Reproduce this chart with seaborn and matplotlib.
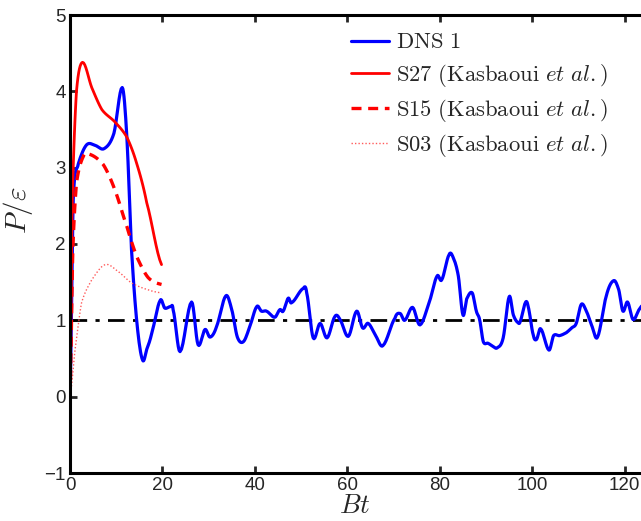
import numpy as np
import pandas as pd
import matplotlib
matplotlib.use("Agg")
import matplotlib.pyplot as plt
import seaborn as sns

# DNS 1 (blue)
dns_t = [0.0, 0.7, 1.8, 3.6, 5.5, 7.4, 9.5, 11.3, 12.3, 13.3, 14.5, 15.7, 16.6, 17.7,
         19.5, 20.5, 21.8, 22.3, 23.8, 26.3, 27.7, 29.2, 30.3, 31.7, 33.7, 35.0, 36.2,
         37.5, 38.9, 40.4, 41.4, 42.5, 44.3, 45.4, 46.1, 47.2, 47.9, 50.5, 51.2, 52.6,
         54.1, 55.6, 57.3, 58.4, 60.2, 62.0, 63.3, 64.5, 66.2, 67.7, 70.3, 71.4, 72.4,
         74.1, 75.7, 77.8, 79.4, 80.4, 82.0, 82.9, 84.0, 85.0, 85.8, 87.0, 87.9, 88.6,
         89.4, 90.4, 91.5, 92.4, 93.7, 95.0, 95.9, 96.9, 97.4, 98.5, 99.1, 100.2, 100.9,
         101.8, 103.6, 104.6, 105.9, 107.4, 108.5, 109.5, 110.6, 111.7, 112.8, 114.1,
         116.0, 117.6, 118.7, 119.6, 120.6, 121.8, 123.2, 124.0]
dns_p = [0.0, 2.58, 3.05, 3.30, 3.29, 3.25, 3.45, 4.05, 3.40, 1.93, 0.95, 0.48, 0.62, 0.84,
         1.26, 1.16, 1.18, 1.14, 0.59, 1.24, 0.68, 0.88, 0.78, 0.92, 1.32, 1.14, 0.78,
         0.72, 0.92, 1.18, 1.12, 1.12, 1.04, 1.14, 1.12, 1.29, 1.23, 1.42, 1.36, 0.77,
         0.96, 0.77, 1.05, 1.01, 0.79, 1.12, 0.90, 0.96, 0.79, 0.67, 1.03, 1.09, 1.00,
         1.17, 0.94, 1.25, 1.58, 1.53, 1.86, 1.82, 1.58, 1.07, 1.28, 1.36, 1.12, 1.01,
         0.72, 0.70, 0.66, 0.64, 0.77, 1.31, 1.07, 0.97, 0.99, 1.23, 1.18, 0.81, 0.75,
         0.89, 0.61, 0.80, 0.80, 0.84, 0.90, 0.96, 1.21, 1.12, 0.94, 0.78,
         1.32, 1.52, 1.40, 1.12, 1.24, 1.01, 1.15, 1.20]

# Kasbaoui et al. cases
s27_t = [0.0, 0.5, 1.4, 2.7, 4.7, 6.9, 9.7, 12.3, 14.4, 16.6, 19.8]
s27_p = [0.0, 2.6, 4.0, 4.38, 4.05, 3.76, 3.60, 3.40, 3.06, 2.54, 1.73]

s15_t = [0.0, 0.6, 1.4, 2.9, 4.0, 7.2, 9.7, 12.3, 14.4, 16.9, 19.8]
s15_p = [0.0, 1.9, 2.8, 3.15, 3.18, 3.04, 2.71, 2.23, 1.84, 1.56, 1.47]

s03_t = [0.0, 1.1, 2.5, 4.7, 7.6, 10.4, 13.3, 16.9, 19.8]
s03_p = [0.0, 0.62, 1.23, 1.53, 1.73, 1.64, 1.49, 1.40, 1.36]

ref_level = 1.0
x_ticks = [0, 20, 40, 60, 80, 100, 120]
y_ticks = [-1, 0, 1, 2, 3, 4, 5]


def smooth(t, p, n=8):
    # Catmull-Rom densification so the curves look smooth
    t = np.asarray(t, float)
    p = np.asarray(p, float)
    tt, pp = [], []
    for i in range(len(t) - 1):
        p0 = p[max(i - 1, 0)]
        p1, p2 = p[i], p[i + 1]
        p3 = p[min(i + 2, len(p) - 1)]
        for s in np.linspace(0, 1, n, endpoint=False):
            s2, s3 = s * s, s * s * s
            v = 0.5 * ((2 * p1) + (-p0 + p2) * s + (2 * p0 - 5 * p1 + 4 * p2 - p3) * s2
                       + (-p0 + 3 * p1 - 3 * p2 + p3) * s3)
            tt.append(t[i] + s * (t[i + 1] - t[i]))
            pp.append(v)
    tt.append(t[-1])
    pp.append(p[-1])
    return pd.DataFrame({"t": tt, "p": pp})


sns.set_style("white")
plt.rcParams["mathtext.fontset"] = "cm"
plt.rcParams["font.family"] = ["Liberation Sans", "DejaVu Sans"]

fig = plt.figure(figsize=(6.41, 5.21), dpi=100)
ax = fig.add_axes([70 / 641, 48 / 521, 601 / 641, 458 / 521])

sns.lineplot(data=smooth(dns_t, dns_p), x="t", y="p", ax=ax, color="#0000ff", lw=2.3,
             label=r"$\mathrm{DNS\ 1}$", estimator=None, sort=False)
sns.lineplot(data=smooth(s27_t, s27_p), x="t", y="p", ax=ax, color="#ff0000", lw=2.0,
             label=r"$\mathrm{S27\ (Kasbaoui\ }\mathit{et\ al.}\mathrm{)}$", estimator=None, sort=False)
sns.lineplot(data=smooth(s15_t, s15_p), x="t", y="p", ax=ax, color="#ff0000", lw=2.4,
             linestyle=(0, (3, 2)),
             label=r"$\mathrm{S15\ (Kasbaoui\ }\mathit{et\ al.}\mathrm{)}$", estimator=None, sort=False)
sns.lineplot(data=smooth(s03_t, s03_p), x="t", y="p", ax=ax, color="#ff5a5a", lw=1.0,
             linestyle=(0, (1, 1.5)),
             label=r"$\mathrm{S03\ (Kasbaoui\ }\mathit{et\ al.}\mathrm{)}$", estimator=None, sort=False)
ax.axhline(ref_level, color="black", lw=2.0, linestyle=(0, (6, 3, 1.5, 3)), zorder=1)

ax.set_xlim(0, 130)
ax.set_ylim(-1, 5)
ax.set_xticks(x_ticks)
ax.set_yticks(y_ticks)
ax.set_yticklabels(["\u22121" if v < 0 else str(v) for v in y_ticks])
ax.tick_params(direction="in", length=5, width=2, labelsize=13.5, pad=3,
               top=True, bottom=True, left=True, right=False)
ax.tick_params(axis="x", pad=3)
for side in ["left", "bottom", "top"]:
    ax.spines[side].set_linewidth(2.2)
    ax.spines[side].set_color("black")
ax.spines["right"].set_visible(False)

ax.set_xlabel(r"$Bt$", fontsize=19.5, va="bottom")
ax.set_ylabel(r"$P/\varepsilon$", fontsize=21)
ax.xaxis.set_label_coords(0.474, -0.1005, transform=ax.transAxes)
ax.yaxis.set_label_coords(-0.058, 0.574, transform=ax.transAxes)

leg = ax.legend(loc="upper left", bbox_to_anchor=(0.452, 0.986), frameon=False,
                fontsize=16.3, handlelength=1.7, handletextpad=0.3, labelspacing=0.36,
                borderaxespad=0)

fig.savefig("out.png", dpi=100)
